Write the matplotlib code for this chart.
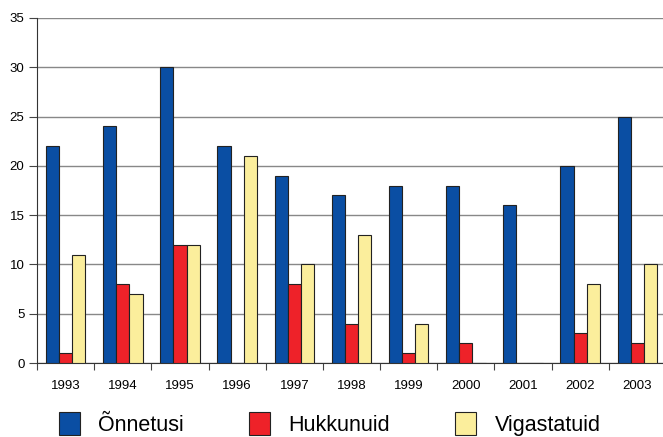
import matplotlib
matplotlib.use("Agg")
import matplotlib.pyplot as plt
import numpy as np

plt.rcParams['font.family'] = ['Liberation Sans', 'DejaVu Sans']

years = ['1993', '1994', '1995', '1996', '1997', '1998', '1999', '2000', '2001', '2002', '2003']
onnetusi = [22, 24, 30, 22, 19, 17, 18, 18, 16, 20, 25]
hukkunuid = [1, 8, 12, 0, 8, 4, 1, 2, 0, 3, 2]
vigastatuid = [11, 7, 12, 21, 10, 13, 4, 0, 0, 8, 10]
series_names = ['Õnnetusi', 'Hukkunuid', 'Vigastatuid']
colors = ['#0A4EA3', '#EE2229', '#FBEE9C']

fig = plt.figure(figsize=(6.63, 4.37), dpi=100)
ax = fig.add_axes([37/663, 1-363/437, 629/663, 345/437])

x = np.arange(len(years))
w = 0.23
for i, (vals, name, c) in enumerate(zip([onnetusi, hukkunuid, vigastatuid], series_names, colors)):
    ax.bar(x + (i-1)*w, vals, w, color=c, edgecolor='#222222', linewidth=0.8, label=name, zorder=3)

ax.set_xlim(-0.5, len(years)-0.5)
ax.set_ylim(0, 35)
ax.set_yticks(range(0, 36, 5))
ax.yaxis.grid(True, color='#888888', linewidth=1.0, zorder=0)
ax.set_xticks(x)
ax.set_xticklabels(years)
ax.set_xticks(np.arange(-0.5, len(years), 1), minor=True)
ax.tick_params(axis='x', which='major', length=0, pad=12, labelsize=9.5)
ax.tick_params(axis='x', which='minor', length=5, width=0.8, color='#444444')
ax.tick_params(axis='y', length=6, width=0.8, color='#444444', labelsize=9.5, pad=3)
for s in ['top', 'right']:
    ax.spines[s].set_visible(False)
ax.spines['left'].set_color('#333333')
ax.spines['bottom'].set_color('#333333')

fig.legend(loc='center', bbox_to_anchor=(0.497, 0.03), ncol=3, frameon=False,
           fontsize=15.5, handlelength=1.0, handleheight=1.3, handletextpad=0.85,
           columnspacing=3.0)

fig.savefig('out.png', dpi=100)
